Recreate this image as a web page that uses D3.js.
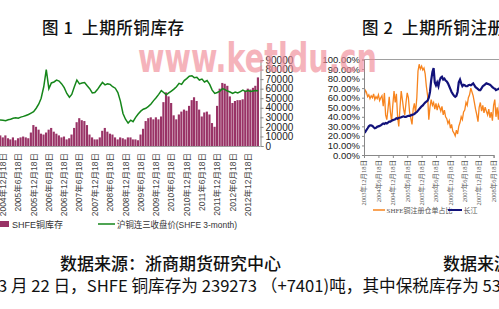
<!DOCTYPE html>
<html><head><meta charset="utf-8">
<script src="https://cdnjs.cloudflare.com/ajax/libs/d3/7.8.5/d3.min.js"></script>
<style>
html,body{margin:0;padding:0;background:#fff;overflow:hidden}
svg{display:block}
text{font-family:"Liberation Sans",Arial,"Noto Sans CJK SC",sans-serif}
.cjk{font-family:"Noto Sans CJK SC",sans-serif}
.serif{font-family:"Liberation Serif","Noto Sans CJK SC",serif}
.ttl{white-space:pre;letter-spacing:0.6px}
</style></head>
<body>
<svg id="c" width="499" height="309"></svg>
<script>
// ---------- Chart 1 data (monthly, starting 2004-10-18) ----------
const stockStart = "2004-10-18";
// SHFE copper stocks (tons)
const stock = [33000,37000,30000,37000,27000,23000,30000,20000,27000,30000,33000,30000,27000,47000,
73000,67000,57000,43000,40000,47000,57000,63000,50000,43000,37000,30000,33000,23000,27000,40000,
63000,83000,97000,90000,87000,73000,40000,30000,23000,23000,30000,53000,63000,50000,43000,40000,
30000,23000,30000,27000,23000,30000,30000,23000,23000,20000,40000,60000,87000,97000,100000,93000,
100000,93000,103000,153000,187000,173000,150000,107000,93000,110000,120000,127000,123000,140000,
160000,170000,157000,127000,103000,117000,120000,110000,80000,67000,140000,200000,220000,217000,
210000,173000,150000,157000,160000,160000,163000,193000,200000,197000,203000,210000,239273];
// SHFE 3-month copper close (yuan/ton)
const price = [27000,27200,27000,26500,27500,28000,29000,29600,29000,30200,31000,32000,33000,34500,
36000,39500,44000,50000,62000,80000,60000,66000,67000,69000,68000,65000,61000,55000,51000,54000,
62000,69000,65000,66000,66500,63000,60000,55500,56000,59000,63000,66500,64000,65000,64500,62000,
60500,56000,47000,34000,28000,24000,27000,25500,30000,33500,36500,38500,39500,41500,44000,47500,
50500,54000,58000,56000,53500,55500,57500,59500,62000,65500,64500,68500,70500,73000,73500,71500,
72000,69000,70000,67000,68500,64500,58500,55000,56000,57500,60000,59000,57500,56500,55000,56500,
55500,57000,58500,57000,58000,57000,57500,58000,57800];
const leftTicks = ["2004年12月18日","2005年6月18日","2005年12月18日","2006年6月18日","2006年12月18日",
"2007年6月18日","2007年12月18日","2008年6月18日","2008年12月18日","2009年6月18日","2009年12月18日",
"2010年6月18日","2010年12月18日","2011年6月18日","2011年12月18日","2012年6月18日","2012年12月18日"];
const priceTicks = [0,10000,20000,30000,40000,50000,60000,70000,80000,90000];

// ---------- Chart 2 data (half-monthly, starting 2003-12-18) ----------
const ratioStart = "2003-12-18";
const warrantRatio = [60,68,66,61,63,59,62,60,64,58,61,59,63,57,60,62,51,65,42,37,48,61,45,35,52,67,55,64,40,30,
50,67,58,48,42,55,65,60,45,38,32,48,54,44,60,88,95,90,93,89,91,85,72,62,37,50,58,52,55,48,54,47,53,50,46,51,42,
47,40,38,33,36,28,32,25,23,20,26,22,30,34,40,37,45,47,55,52,60,63,70,66,62,55,48,42,35,50,55,46,52,44,50,46,42,
48,39,45,36,52,58,40,50,37,55];
const cjPrice = [23,24,26,28,30,31,31,30.5,29,28,28.5,29.5,30,30.5,31,32,33,32.5,33.5,33,34,35,35,36,36.5,37,37.5,
38.5,38,39,39,39.5,40,40.5,40,40,40.5,41,41,41.5,42,42.5,43,44,45,46.5,48,49.5,51,52,53.5,55,56,57,60,66,78,87,91,
76,73,76,72,78,81,82,79,80,78,77,75,72,69,66,64,62,61,62,66,76,79,75,72,73.5,73,72,72,73,73.5,73,74,75,73,71,70,
69,68,68,70,72,73,74,75,74.5,74,73.5,72.5,71,70,69.5,68,68.5,69,70];
const rightTicks = ["2003年12月18日","2004年6月18日","2004年12月18日","2005年6月18日","2005年12月18日",
"2006年6月18日","2006年12月18日","2007年6月18日","2007年12月18日","2008年6月18日"];
const pctTicks = [0,0.1,0.2,0.3,0.4,0.5,0.6,0.7,0.8,0.9,1.0];

const parse = d3.timeParse("%Y-%m-%d");
const svg = d3.select("#c");

// ================= Chart 1 =================
const s0 = parse(stockStart);
const months = stock.map((_, i) => d3.timeMonth.offset(s0, i));
const x1 = d3.scaleTime().domain([parse("2004-12-18"), parse("2012-12-18")]).range([3, 248]);
const yPrice = d3.scaleLinear().domain([0, 90000]).range([146, 60]);
const yStock = d3.scaleLinear().domain([0, 300000]).range([146, 60]);
const bw = (x1(d3.timeMonth.offset(s0, 1)) - x1(s0));

const g1 = svg.append("g");
g1.append("defs").append("clipPath").attr("id","clip1").append("rect")
  .attr("x", -20).attr("y", 50).attr("width", 280).attr("height", 100);
const plot1 = g1.append("g").attr("clip-path","url(#clip1)");
plot1.selectAll("rect.bar").data(stock).join("rect").attr("class","bar")
  .attr("x", (d, i) => x1(months[i]) - bw / 2)
  .attr("width", bw - 0.45)
  .attr("y", d => yStock(d))
  .attr("height", d => yStock(0) - yStock(d))
  .attr("fill", "#993366");
plot1.append("path").datum(price)
  .attr("d", d3.line().x((d, i) => x1(months[i])).y(d => yPrice(d)))
  .attr("fill", "none").attr("stroke", "#15861a").attr("stroke-width", 1.5);

g1.append("line").attr("x1", 0).attr("x2", 260).attr("y1", 146.5).attr("y2", 146.5)
  .attr("stroke", "#888").attr("stroke-width", 0.8);
const ax1 = g1.append("g").attr("transform", "translate(260.5,0)")
  .call(d3.axisRight(yPrice).tickValues(priceTicks).tickSize(3).tickPadding(2).tickFormat(d3.format("d")));
ax1.select(".domain").attr("stroke", "#888");
ax1.selectAll(".tick line").attr("stroke", "#888");
ax1.selectAll("text").attr("font-size", 10).attr("fill", "#222");

const tickDates1 = leftTicks.map(s => d3.timeParse("%Y年%m月%d日")(s));
g1.selectAll("text.xl").data(leftTicks).join("text").attr("class","xl")
  .attr("transform", (d, i) => `translate(${x1(tickDates1[i]) + 3},153) rotate(-90)`)
  .attr("text-anchor", "end").attr("font-size", 8.5).attr("fill", "#444").text(d => d);

g1.append("rect").attr("x", 0).attr("y", 221).attr("width", 9).attr("height", 6).attr("fill", "#993366");
g1.append("text").attr("x", 12).attr("y", 227.5).attr("font-size", 9).attr("fill", "#333").text("SHFE铜库存");
g1.append("line").attr("x1", 98).attr("x2", 115).attr("y1", 224).attr("y2", 224)
  .attr("stroke", "#15861a").attr("stroke-width", 1.5);
g1.append("text").attr("x", 117).attr("y", 227.5).attr("font-size", 9).attr("fill", "#333")
  .attr("textLength", 120).attr("lengthAdjust", "spacingAndGlyphs").text("沪铜连三收盘价(SHFE 3-month)");

svg.append("text").attr("class","cjk ttl").attr("x", 42).attr("y", 34).attr("font-size", 16.5)
  .attr("font-weight", 500).attr("fill", "#111").text("图 1  上期所铜库存");

// ================= Chart 2 =================
const r0 = parse(ratioStart);
const halfDates = warrantRatio.map((_, k) => d3.timeDay.offset(r0, Math.round(k * 15.22)));
const x2 = d3.scaleTime().domain([parse("2003-12-18"), parse("2008-06-18")]).range([364, 493.6]);
const yPct = d3.scaleLinear().domain([0, 1]).range([155, 59.5]);
const g2 = svg.append("g");
g2.append("line").attr("x1", 364).attr("x2", 499).attr("y1", 59.5).attr("y2", 59.5)
  .attr("stroke", "#888").attr("stroke-width", 0.8);
g2.append("defs").append("clipPath").attr("id","clip2").append("rect")
  .attr("x", 364).attr("y", 58).attr("width", 140).attr("height", 98);
const plot2 = g2.append("g").attr("clip-path","url(#clip2)");
plot2.append("path").datum(warrantRatio)
  .attr("d", d3.line().x((d, k) => x2(halfDates[k])).y(d => yPct(d / 100)))
  .attr("fill", "none").attr("stroke", "#f7841e").attr("stroke-width", 1.3);
plot2.append("path").datum(cjPrice)
  .attr("d", d3.line().x((d, k) => x2(halfDates[k])).y(d => yPct(d / 100)))
  .attr("fill", "none").attr("stroke", "#12127a").attr("stroke-width", 2.2);

const ax2 = g2.append("g").attr("transform", "translate(364,0)")
  .call(d3.axisLeft(yPct).tickValues(pctTicks).tickSize(2).tickPadding(2).tickFormat(d3.format(".2%")));
ax2.select(".domain").attr("stroke", "#888");
ax2.selectAll(".tick line").attr("stroke", "#888");
ax2.selectAll("text").attr("font-size", 9.5).attr("fill", "#222");

const tickDates2 = rightTicks.map(s => d3.timeParse("%Y年%m月%d日")(s));
const axb = g2.append("g").attr("transform", "translate(0,155)")
  .call(d3.axisBottom(x2).tickValues(tickDates2).tickSize(3).tickFormat(""));
axb.select(".domain").attr("stroke", "#888");
axb.selectAll(".tick line").attr("stroke", "#888");
g2.selectAll("text.xr").data(rightTicks).join("text").attr("class","xr serif")
  .attr("transform", (d, i) => `translate(${x2(tickDates2[i]) + 2.3},160) rotate(-90)`)
  .attr("text-anchor", "end").attr("font-size", 6.5).attr("fill", "#555").text(d => d);

g2.append("line").attr("x1", 373).attr("x2", 385).attr("y1", 210).attr("y2", 210)
  .attr("stroke", "#f7841e").attr("stroke-width", 1.5);
g2.append("text").attr("class","serif").attr("x", 386.5).attr("y", 212.5).attr("font-size", 7).attr("fill", "#555")
  .text("SHFE铜注册仓单占比");
g2.append("line").attr("x1", 448).attr("x2", 462).attr("y1", 210).attr("y2", 210)
  .attr("stroke", "#12127a").attr("stroke-width", 2);
g2.append("text").attr("class","serif").attr("x", 463.5).attr("y", 212.5).attr("font-size", 7).attr("fill", "#555")
  .text("长江");

svg.append("text").attr("class","cjk ttl").attr("x", 362).attr("y", 34).attr("font-size", 16.5)
  .attr("font-weight", 500).attr("fill", "#111").text("图 2  上期所铜注册仓单占比");

// ================= Text below =================
svg.append("text").attr("class","cjk").attr("x", 60).attr("y", 270).attr("font-size", 17)
  .attr("font-weight", 500).attr("fill", "#111").text("数据来源：浙商期货研究中心");
svg.append("text").attr("class","cjk").attr("x", 443).attr("y", 270).attr("font-size", 17)
  .attr("font-weight", 500).attr("fill", "#111").text("数据来源：浙商期货研究中心");

svg.append("text").attr("class","cjk").attr("x", -2).attr("y", 292).attr("font-size", 16.5).attr("fill", "#111")
  .attr("textLength", 503).attr("lengthAdjust", "spacingAndGlyphs")
  .text("3 月 22 日，SHFE 铜库存为 239273 （+7401)吨，其中保税库存为 53");

// ================= Watermark =================
svg.append("text").attr("x", 138).attr("y", 72).attr("font-size", 40).attr("font-weight", "bold")
  .style("font-family", "'DejaVu Sans', sans-serif")
  .attr("textLength", 239).attr("lengthAdjust", "spacingAndGlyphs")
  .attr("fill", "#f08c98").attr("opacity", 0.65).text("www.ketldu.cn");
</script>
</body></html>
